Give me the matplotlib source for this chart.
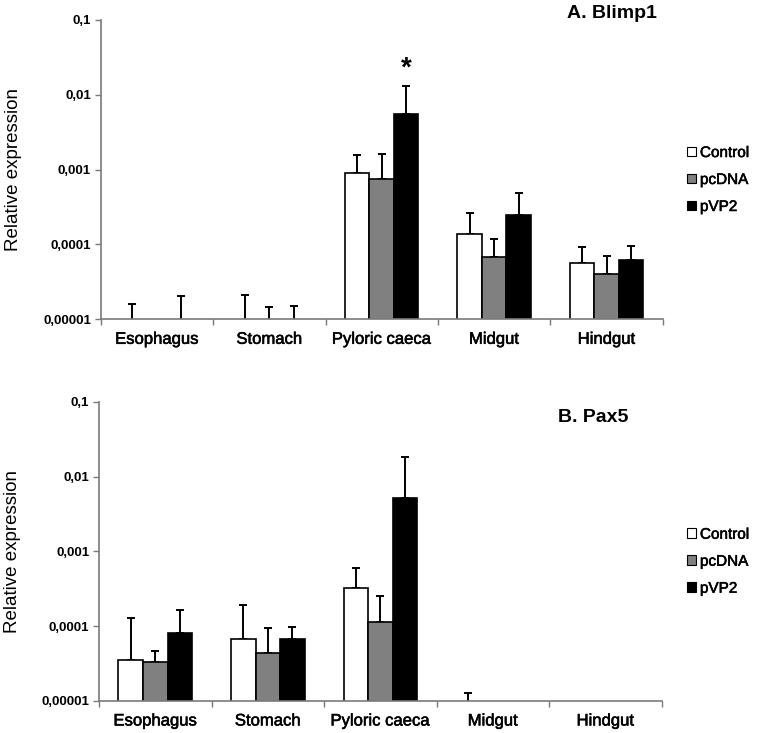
import numpy as np
import matplotlib
matplotlib.use("Agg")
import matplotlib.pyplot as plt
from matplotlib.patches import Patch
import matplotlib.patheffects as pe

plt.rcParams['font.family'] = ['Liberation Sans', 'DejaVu Sans']

categories = ["Esophagus", "Stomach", "Pyloric caeca", "Midgut", "Hindgut"]
series = ["Control", "pcDNA", "pVP2"]
ytick_vals = [0.00001, 0.0001, 0.001, 0.01, 0.1]
ytick_labels = ["0,00001", "0,0001", "0,001", "0,01", "0,1"]

# Panel A: Blimp1 (means and upper error)
blimp_control = [2e-6, 2e-6, 0.000896, 0.000137, 0.0000571]
blimp_pcdna = [1e-6, 2e-6, 0.000752, 0.0000687, 0.0000403]
blimp_pvp2 = [2e-6, 2e-6, 0.00556, 0.000245, 0.0000621]
blimp_control_err = [0.0000139, 0.0000193, 0.000674, 0.000127, 0.0000364]
blimp_pcdna_err = [1e-6, 0.0000126, 0.000868, 0.0000503, 0.0000292]
blimp_pvp2_err = [0.0000187, 0.0000132, 0.00759, 0.000243, 0.0000343]

# Panel B: Pax5
pax_control = [0.0000353, 0.0000667, 0.00032, 2e-6, 1e-6]
pax_pcdna = [0.0000335, 0.0000438, 0.000113, 1e-6, 1e-6]
pax_pvp2 = [0.000082, 0.0000675, 0.00522, 1e-6, 1e-6]
pax_control_err = [0.0000917, 0.000127, 0.000285, 0.0000109, 1e-6]
pax_pcdna_err = [0.0000136, 0.0000517, 0.00014, 1e-6, 1e-6]
pax_pvp2_err = [0.000081, 0.00003, 0.0129, 1e-6, 1e-6]

colors = ["white", "#808080", "black"]

fig = plt.figure(figsize=(7.59, 7.33), dpi=100)
ax1 = fig.add_axes([0.1327, 0.5644, 0.7405, 0.4084])
ax2 = fig.add_axes([0.1304, 0.0437, 0.7414, 0.4083])

bw = 0.218
spine_col = "#7a7a7a"
thick = [pe.withStroke(linewidth=0.4, foreground='black')]


def draw(ax, means, errs, title, title_xy, legend_y):
    x = np.arange(len(categories)) + 0.5
    ax.set_yscale('log')
    handles = []
    for i, (m, e) in enumerate(zip(means, errs)):
        xi = x + (i - 1) * bw
        ax.bar(xi, m, width=bw, color=colors[i], edgecolor="black",
               linewidth=1.2, zorder=2, label=series[i])
        ax.errorbar(xi, m, yerr=[np.zeros(len(m)), e], fmt='none', ecolor='black',
                    elinewidth=1.4, capsize=2.6, capthick=1.4, zorder=1)
        handles.append(Patch(facecolor=colors[i], edgecolor="black", linewidth=0.8, label=series[i]))
    ax.set_ylim(0.00001, 0.1)
    ax.set_xlim(0, len(categories))
    ax.set_yticks(ytick_vals)
    ax.set_yticklabels(ytick_labels, fontweight='bold', fontsize=9.5)
    ax.yaxis.set_minor_locator(matplotlib.ticker.NullLocator())
    ax.set_xticks(np.arange(len(categories) + 1))
    ax.set_xticklabels([])
    ax.set_xticks(x, minor=True)
    ax.set_xticklabels(categories, minor=True, fontsize=12)
    for t in ax.get_xticklabels(minor=True):
        t.set_path_effects(thick)
    ax.tick_params(axis='x', which='minor', length=0, pad=9)
    ax.tick_params(axis='x', which='major', length=4.5, width=1, color=spine_col)
    ax.tick_params(axis='y', which='major', length=4, width=1, color=spine_col, pad=3)
    for s in ['top', 'right']:
        ax.spines[s].set_visible(False)
    for s in ['left', 'bottom']:
        ax.spines[s].set_color(spine_col)
        ax.spines[s].set_linewidth(1.2)
    ax.set_ylabel("Relative expression", fontsize=13.5, labelpad=15)
    fig.text(title_xy[0], title_xy[1], title, fontsize=14, fontweight='bold',
             ha='center', va='center')
    leg = ax.legend(handles=handles, loc='center left', bbox_to_anchor=(0.895, legend_y),
                    bbox_transform=fig.transFigure, frameon=False, fontsize=11,
                    handlelength=0.6, handleheight=0.6, handletextpad=0.25,
                    labelspacing=0.85, borderpad=0)
    for t in leg.get_texts():
        t.set_path_effects(thick)
    return x


x1 = draw(ax1, [blimp_control, blimp_pcdna, blimp_pvp2],
          [blimp_control_err, blimp_pcdna_err, blimp_pvp2_err],
          "A. Blimp1", (611.7 / 759, 1 - 13 / 733), 1 - 180 / 733)
# significance marker above pyloric caeca pVP2
top = blimp_pvp2[2] + blimp_pvp2_err[2]
ax1.text(x1[2] + bw, top * 1.7, "*", ha='center', va='center', fontsize=20, fontweight='bold')

draw(ax2, [pax_control, pax_pcdna, pax_pvp2],
     [pax_control_err, pax_pcdna_err, pax_pvp2_err],
     "B. Pax5", (592.7 / 759, 1 - 417.7 / 733), 1 - 561.7 / 733)

fig.savefig("out.png", dpi=100)
